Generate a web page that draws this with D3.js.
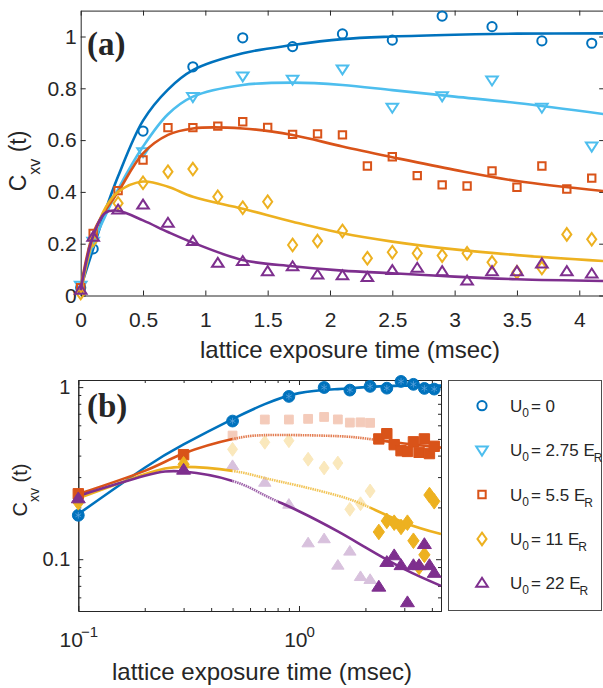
<!DOCTYPE html>
<html>
<head>
<meta charset="utf-8">
<script src="https://cdn.jsdelivr.net/npm/d3@7"></script>
<style>
  body { margin: 0; background: #fff; }
  text { font-family: "Liberation Sans", Arial, sans-serif; fill: #262626; }
</style>
</head>
<body>
<svg id="svg" width="603" height="688"></svg>
<script>
// ---- data ----
var legendVals = ['0', '2.75', '5.5', '11', '22'];

// times (msec)
var timesSparse = [0, 0.1, 0.5, 0.9, 1.3, 1.7, 2.1, 2.5, 2.9, 3.3, 3.7, 4.1];
var timesDense = [0, 0.1, 0.3, 0.5, 0.7, 0.9, 1.1, 1.3, 1.5, 1.7, 1.9, 2.1,
                  2.3, 2.5, 2.7, 2.9, 3.1, 3.3, 3.5, 3.7, 3.9, 4.1];

// measured C_xv(t)
var c0   = [0.03, 0.18, 0.635, 0.883, 0.995, 0.961, 1.01, 0.986, 1.079, 1.038, 0.983, 0.974];
var c275 = [0.04, 0.21, 0.555, 0.768, 0.848, 0.835, 0.875, 0.727, 0.771, 0.832, 0.727, 0.577];
var c55  = [0.03, 0.24, 0.405, 0.523, 0.648, 0.648, 0.654, 0.671, 0.649, 0.622, 0.624, 0.62,
            0.5, 0.536, 0.463, 0.427, 0.423, 0.481, 0.418, 0.5, 0.411, 0.453];
var c11  = [0.01, 0.214, 0.356, 0.435, 0.478, 0.488, 0.381, 0.339, 0.362, 0.195, 0.21, 0.249,
            0.144, 0.167, 0.163, 0.154, 0.163, 0.128, 0.09, 0.106, 0.236, 0.217];
var c22  = [0.02, 0.225, 0.33, 0.349, 0.279, 0.208, 0.124, 0.131, 0.092, 0.111, 0.079, 0.076,
            0.069, 0.096, 0.105, 0.092, 0.056, 0.092, 0.092, 0.122, 0.092, 0.083];

// fit curves, panel (a)
var fitTimesA = [0, 0.1, 0.2, 0.3, 0.5, 0.7, 0.9, 1.3, 1.7, 2.1, 2.5, 3, 3.5, 4.2];
var fitA0   = [0.03, 0.18, 0.33, 0.46, 0.675, 0.795, 0.87, 0.935, 0.967, 0.99, 1.0, 1.007, 1.011, 1.012];
var fitA275 = [0.04, 0.2, 0.31, 0.41, 0.575, 0.70, 0.768, 0.813, 0.822, 0.813, 0.793, 0.768, 0.743, 0.70];
var fitA55  = [0.03, 0.24, 0.33, 0.40, 0.549, 0.62, 0.645, 0.645, 0.62, 0.575, 0.534, 0.485, 0.442, 0.403];
var fitA11  = [0.01, 0.22, 0.34, 0.40, 0.44, 0.42, 0.381, 0.335, 0.285, 0.24, 0.208, 0.178, 0.156, 0.133];
var fitA22  = [0.02, 0.23, 0.32, 0.327, 0.29, 0.245, 0.204, 0.137, 0.113, 0.096, 0.086, 0.073, 0.063, 0.056];

// fit curves, panel (b)
var fitTimesB = [0.1, 0.2, 0.3, 0.5, 0.7, 1, 1.5, 2, 3, 4.4];
var fitB0  = [0.183, 0.34, 0.465, 0.652, 0.796, 0.923, 0.974, 1.0, 1.02, 1.02];
var fitB55 = [0.239, 0.326, 0.411, 0.499, 0.526, 0.526, 0.519, 0.503, 0.47, 0.445];
var fitB11 = [0.226, 0.312, 0.344, 0.326, 0.296, 0.267, 0.234, 0.205, 0.163, 0.14];
var fitB22 = [0.233, 0.305, 0.323, 0.285, 0.235, 0.19, 0.145, 0.117, 0.0875, 0.07];

// time window shown faded in panel (b)
var fadedTimes = [0.5, 2.1];
var fadedFit55 = [0.5, 2.2], fadedFit11 = [0.5, 2.1], fadedFit22 = [0.5, 0.8];

// ticks
var xTicksA = [0, 0.5, 1, 1.5, 2, 2.5, 3, 3.5, 4];
var xTickLabelsA = ['0', '0.5', '1', '1.5', '2', '2.5', '3', '3.5', '4'];
var yTicksA = [0, 0.2, 0.4, 0.6, 0.8, 1];
var yTickLabelsA = ['0', '0.2', '0.4', '0.6', '0.8', '1'];
var xMajorB = [0.1, 1];
var xMajorExpB = ['\u22121', '0'];
var xMinorB = [0.2, 0.3, 0.4, 0.5, 0.6, 0.7, 0.8, 0.9, 2, 3, 4];
var yMajorB = [0.1, 1];
var yMajorLabelsB = ['0.1', '1'];
var yMinorB = [0.06, 0.07, 0.08, 0.09, 0.2, 0.3, 0.4, 0.5, 0.6, 0.7, 0.8, 0.9];

// ---- styling ----
var colors = ['#0072BD', '#4DBEEE', '#D95319', '#EDB120', '#7E2F8E'];
var shapes = ['o', 'v', 's', 'd', '^'];
var axisColor = '#262626';

var series = [
  {times: timesSparse, vals: c0,   fitA: fitA0,   fitB: fitB0,  fade: null},
  {times: timesSparse, vals: c275, fitA: fitA275, fitB: null,   fade: null},
  {times: timesDense,  vals: c55,  fitA: fitA55,  fitB: fitB55, fade: fadedFit55},
  {times: timesDense,  vals: c11,  fitA: fitA11,  fitB: fitB11, fade: fadedFit11},
  {times: timesDense,  vals: c22,  fitA: fitA22,  fitB: fitB22, fade: fadedFit22}
];
series.forEach(function (s, i) { s.color = colors[i]; s.shape = shapes[i]; });

var svg = d3.select('#svg');

var xA = d3.scaleLinear().domain([0, 4.2]).range([80.7, 604.2]);
var yA = d3.scaleLinear().domain([0, 1.1]).range([295.5, 10.6]);
var xB = d3.scaleLog().domain([0.1, 4.4]).range([78.3, 441]);
var yB = d3.scaleLog().domain([0.05, 1.1]).range([611, 380]);

function markerPath(shape, r) {
  if (shape === 'o') return d3.symbol(d3.symbolCircle, Math.PI * r * r)();
  if (shape === 'v') return 'M' + (-r) + ',' + (-0.6 * r) + 'L' + r + ',' + (-0.6 * r) + 'L0,' + (0.95 * r) + 'Z';
  if (shape === '^') return 'M0,' + (-0.95 * r) + 'L' + r + ',' + (0.6 * r) + 'L' + (-r) + ',' + (0.6 * r) + 'Z';
  if (shape === 's') return 'M' + (-r) + ',' + (-r) + 'H' + r + 'V' + r + 'H' + (-r) + 'Z';
  return 'M0,' + (-r) + 'L' + (0.72 * r) + ',0L0,' + r + 'L' + (-0.72 * r) + ',0Z';
}
var openSize = {o: 4.6, v: 5.8, s: 3.7, d: 6.3, '^': 5.8};
var fillSize = {o: 5.9, s: 5.2, d: 7.8, '^': 7.0};
var fadeSize = {o: 5.0, s: 4.4, d: 6.9, '^': 6.2};

function styleAxis(a, size) {
  a.attr('font-family', null).attr('font-size', size);
  a.select('.domain').attr('stroke', axisColor).attr('stroke-width', 1);
  a.selectAll('.tick line').attr('stroke', axisColor);
  a.selectAll('.tick text').attr('fill', axisColor);
  return a;
}

// ================= panel (a) =================
var gA = svg.append('g');
styleAxis(gA.append('g').attr('transform', 'translate(0,' + yA(0) + ')')
  .call(d3.axisBottom(xA).tickValues(xTicksA).tickSizeInner(-5).tickSizeOuter(0).tickPadding(17)
    .tickFormat(function (d, i) { return xTickLabelsA[i]; })), 21);
styleAxis(gA.append('g').attr('transform', 'translate(0,' + yA(1.1) + ')')
  .call(d3.axisTop(xA).tickValues(xTicksA).tickSizeInner(-5).tickSizeOuter(0).tickFormat('')), 21);
styleAxis(gA.append('g').attr('transform', 'translate(' + xA(0) + ',0)')
  .call(d3.axisLeft(yA).tickValues(yTicksA).tickSizeInner(-5).tickSizeOuter(0).tickPadding(4)
    .tickFormat(function (d, i) { return yTickLabelsA[i]; })), 21);
styleAxis(gA.append('g').attr('transform', 'translate(' + xA(4.2) + ',0)')
  .call(d3.axisRight(yA).tickValues(yTicksA).tickSizeInner(-5).tickSizeOuter(0).tickFormat('')), 21);

var lineA = d3.line()
  .x(function (d) { return xA(d[0]); })
  .y(function (d) { return yA(d[1]); })
  .curve(d3.curveCatmullRom.alpha(0.5));

series.forEach(function (s) {
  var pts = s.times.map(function (t, i) { return [t, s.vals[i]]; });
  gA.append('g').selectAll('path')
    .data(pts).enter().append('path')
    .attr('transform', function (d) { return 'translate(' + xA(d[0]) + ',' + yA(d[1]) + ')'; })
    .attr('d', markerPath(s.shape, openSize[s.shape]))
    .attr('fill', 'none').attr('stroke', s.color).attr('stroke-width', 2);
  var fit = fitTimesA.map(function (t, i) { return [t, s.fitA[i]]; });
  gA.append('path').datum(fit)
    .attr('d', lineA).attr('fill', 'none')
    .attr('stroke', s.color).attr('stroke-width', 2.6);
});

gA.append('text').attr('x', 87).attr('y', 55)
  .style('font-family', '"Liberation Serif", "Times New Roman", serif')
  .style('font-weight', 'bold').style('font-size', '33px').text('(a)');

gA.append('text').attr('x', 350).attr('y', 358)
  .attr('text-anchor', 'middle').style('font-size', '24px')
  .text('lattice exposure time (msec)');

var ylA = gA.append('text').attr('transform', 'translate(26,161) rotate(-90)')
  .attr('text-anchor', 'middle').style('font-size', '23px');
ylA.append('tspan').text('C');
ylA.append('tspan').attr('dy', 14).style('font-size', '16px').text('xv');
ylA.append('tspan').attr('dy', -14).text(' (t)');

// ================= panel (b) =================
var gB = svg.append('g');
function logAxes(major, minor, axisFn, scale, tx, ty, size, padding, fmt) {
  styleAxis(gB.append('g').attr('transform', 'translate(' + tx + ',' + ty + ')')
    .call(axisFn(scale).tickValues(minor).tickSizeInner(-3).tickSizeOuter(0).tickFormat('')), size);
  return styleAxis(gB.append('g').attr('transform', 'translate(' + tx + ',' + ty + ')')
    .call(axisFn(scale).tickValues(major).tickSizeInner(-5).tickSizeOuter(0)
      .tickPadding(padding).tickFormat(fmt)), size);
}
var xAxB = logAxes(xMajorB, xMinorB, d3.axisBottom, xB, 0, yB(0.05), 21, 21, function () { return ''; });
xAxB.selectAll('.tick text').each(function (d, i) {
  var t = d3.select(this);
  t.append('tspan').text('10');
  t.append('tspan').attr('dy', -10).attr('dx', i === 0 ? -2 : -1)
    .style('font-size', '15px').text(xMajorExpB[i]);
});
logAxes(xMajorB, xMinorB, d3.axisTop, xB, 0, yB(1.1), 21, 3, function () { return ''; });
logAxes(yMajorB, yMinorB, d3.axisLeft, yB, xB(0.1), 0, 20, 8,
  function (d, i) { return yMajorLabelsB[i]; });
logAxes(yMajorB, yMinorB, d3.axisRight, yB, xB(4.4), 0, 20, 3, function () { return ''; });

var lineB = d3.line()
  .x(function (d) { return xB(d[0]); })
  .y(function (d) { return yB(d[1]); })
  .curve(d3.curveNatural);

var defs = svg.append('defs');
var drawB = [0, 2, 3, 4];

// faded markers first
drawB.forEach(function (k) {
  var s = series[k];
  var pale = d3.interpolateRgb(s.color, '#ffffff')(0.7);
  var pts = s.times.map(function (t, i) { return [t, s.vals[i]]; })
    .filter(function (d) { return d[0] > 0 && k !== 0 && d[0] >= fadedTimes[0] && d[0] <= fadedTimes[1]; });
  gB.append('g').selectAll('path').data(pts).enter().append('path')
    .attr('transform', function (d) { return 'translate(' + xB(d[0]) + ',' + yB(d[1]) + ')'; })
    .attr('d', markerPath(s.shape, fadeSize[s.shape]))
    .attr('fill', pale).attr('stroke', pale).attr('stroke-width', 1);
});

// fit lines
drawB.forEach(function (k) {
  var s = series[k];
  var fit = fitTimesB.map(function (t, i) { return [t, s.fitB[i]]; });
  if (!s.fade) {
    gB.append('path').datum(fit).attr('d', lineB).attr('fill', 'none')
      .attr('stroke', s.color).attr('stroke-width', 2.6);
    return;
  }
  var x0 = xB(s.fade[0]), x1 = xB(s.fade[1]);
  var cs = defs.append('clipPath').attr('id', 'solid' + k);
  cs.append('rect').attr('x', 0).attr('y', 0).attr('width', x0).attr('height', 688);
  cs.append('rect').attr('x', x1).attr('y', 0).attr('width', 603 - x1).attr('height', 688);
  defs.append('clipPath').attr('id', 'fade' + k).append('rect')
    .attr('x', x0).attr('y', 0).attr('width', x1 - x0).attr('height', 688);
  gB.append('path').datum(fit).attr('d', lineB).attr('fill', 'none')
    .attr('clip-path', 'url(#solid' + k + ')')
    .attr('stroke', s.color).attr('stroke-width', 2.6);
  gB.append('path').datum(fit).attr('d', lineB).attr('fill', 'none')
    .attr('clip-path', 'url(#fade' + k + ')')
    .attr('stroke', d3.interpolateRgb(s.color, '#ffffff')(0.25))
    .attr('stroke-width', 2.6).attr('stroke-dasharray', '1.5,0.8');
});

// filled markers on top
drawB.forEach(function (k) {
  var s = series[k];
  var pts = s.times.map(function (t, i) { return [t, s.vals[i]]; })
    .filter(function (d) { return d[0] > 0 && (k === 0 || d[0] < fadedTimes[0] || d[0] > fadedTimes[1]); });
  var g = gB.append('g');
  g.selectAll('path.m').data(pts).enter().append('path').attr('class', 'm')
    .attr('transform', function (d) { return 'translate(' + xB(d[0]) + ',' + yB(d[1]) + ')'; })
    .attr('d', markerPath(s.shape, fillSize[s.shape]))
    .attr('fill', s.color).attr('stroke', s.color).attr('stroke-width', 1);
  if (s.shape === 'o') {
    g.selectAll('path.star').data(pts).enter().append('path').attr('class', 'star')
      .attr('transform', function (d) { return 'translate(' + xB(d[0]) + ',' + yB(d[1]) + ')'; })
      .attr('d', d3.symbol(d3.symbolAsterisk, 30)())
      .attr('fill', 'none').attr('stroke', '#5aa2dc').attr('stroke-width', 0.8);
  }
});

gB.append('text').attr('x', 87).attr('y', 417)
  .style('font-family', '"Liberation Serif", "Times New Roman", serif')
  .style('font-weight', 'bold').style('font-size', '33px').text('(b)');

gB.append('text').attr('x', 262).attr('y', 680)
  .attr('text-anchor', 'middle').style('font-size', '24px')
  .text('lattice exposure time (msec)');

var ylB = gB.append('text').attr('transform', 'translate(27,490) rotate(-90)')
  .attr('text-anchor', 'middle').style('font-size', '20px');
ylB.append('tspan').text('C');
ylB.append('tspan').attr('dy', 12).style('font-size', '14px').text('xv');
ylB.append('tspan').attr('dy', -12).text(' (t)');

// ================= legend =================
var leg = svg.append('g');
leg.append('rect').attr('x', 448.5).attr('y', 380.5).attr('width', 153).attr('height', 230)
  .attr('fill', '#fff').attr('stroke', '#4d4d4d').attr('stroke-width', 1);
var rowY = d3.scalePoint().domain(d3.range(legendVals.length)).range([405.7, 583.3]);
legendVals.forEach(function (v, i) {
  var s = series[i];
  var y = rowY(i);
  leg.append('path').attr('transform', 'translate(482,' + y + ')')
    .attr('d', markerPath(s.shape, openSize[s.shape]))
    .attr('fill', 'none').attr('stroke', s.color).attr('stroke-width', 2);
  var t = leg.append('text').attr('x', 510).attr('y', y + 6).style('font-size', '17px');
  t.append('tspan').text('U');
  t.append('tspan').attr('dy', 5).style('font-size', '12px').text('0');
  t.append('tspan').attr('dy', -5).attr('dx', 2).text('= ' + v + (v === '0' ? '' : ' E'));
  if (v !== '0') {
    t.append('tspan').attr('dy', 6).attr('dx', -1).style('font-size', '12px').text('R');
  }
});
</script>
</body>
</html>
